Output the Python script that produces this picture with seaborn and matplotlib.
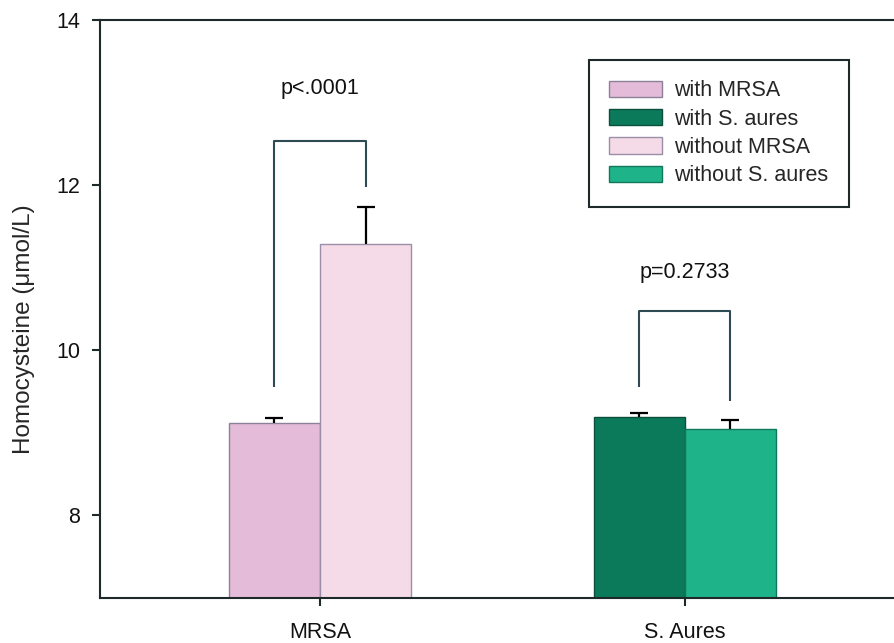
import numpy as np
import pandas as pd
import matplotlib
matplotlib.use("Agg")
import matplotlib.pyplot as plt
import seaborn as sns
from matplotlib.patches import Patch

# --- data ---
groups = ["MRSA", "S. Aures"]
with_means = [9.12, 9.19]
without_means = [11.29, 9.05]
with_se = [0.06, 0.05]
without_se = [0.45, 0.11]
legend_labels = ["with MRSA", "with S. aures", "without MRSA", "without S. aures"]
bar_colors = ["#E4BBD8", "#0A7A5A", "#F5DAE7", "#1EB389"]
bar_edges = ["#8C8298", "#0B4F3C", "#9A8FA8", "#11775A"]

# significance brackets (y values in data units)
bracket_tops = [12.53, 10.48]
bracket_left_bottoms = [9.56, 9.55]
bracket_right_bottoms = [11.98, 9.38]
p_labels = ["p<.0001", "p=0.2733"]
p_label_y = [13.10, 10.87]

df = pd.DataFrame({
    "group": groups * 2,
    "status": ["with"] * 2 + ["without"] * 2,
    "value": with_means + without_means,
})
errs = with_se + without_se

sns.set_theme(style="ticks")
plt.rcParams["font.family"] = ["Liberation Sans", "DejaVu Sans"]

fig = plt.figure(figsize=(8.94, 6.43), dpi=100)
ax = fig.add_axes([0.1119, 0.070, 0.888, 0.899])

sns.barplot(data=df, x="group", y="value", hue="status", width=0.5,
            errorbar=None, legend=False, ax=ax)

# recolour bars: patch order is with-MRSA, with-S.aures, without-MRSA, without-S.aures
bars = list(ax.patches)
for p, fc, ec in zip(bars, bar_colors, bar_edges):
    p.set_facecolor(fc)
    p.set_edgecolor(ec)
    p.set_linewidth(1.0)

# upward-only error bars with a single cap on top
xs = np.array([p.get_x() + p.get_width() / 2 for p in bars])
tops = np.array([p.get_height() for p in bars])
eb = ax.errorbar(xs, tops, yerr=[np.zeros(len(errs)), errs], fmt="none",
                 ecolor="black", elinewidth=1.6, capsize=6.5, capthick=1.6, zorder=3)
eb[1][0].set_visible(False)

# brackets between with / without bars of each group
line_col = "#2E4A52"
for i in range(len(groups)):
    x0, x1 = xs[i], xs[i + 2]
    ax.plot([x0, x0, x1, x1],
            [bracket_left_bottoms[i], bracket_tops[i], bracket_tops[i], bracket_right_bottoms[i]],
            color=line_col, lw=1.5, solid_capstyle="butt")
    ax.text((x0 + x1) / 2, p_label_y[i], p_labels[i], ha="center", va="baseline",
            fontsize=15.5, color="#111111")

ax.set_xlim(-0.603, 1.573)
ax.set_ylim(7, 14)
ax.set_yticks([8, 10, 12, 14])
ax.set_xlabel("")
ax.set_ylabel("Homocysteine (\u03bcmol/L)", fontsize=17.5)
ax.yaxis.set_label_coords(-0.082, 0.465)

for side in ["left", "bottom", "top"]:
    ax.spines[side].set_linewidth(1.5)
    ax.spines[side].set_color("#1E2A2A")
ax.spines["right"].set_visible(False)
ax.tick_params(axis="both", direction="out", length=6, width=1.5,
               color="#1E2A2A", labelsize=15.5, labelcolor="#111111")
ax.tick_params(axis="y", pad=8.5)
ax.tick_params(axis="x", pad=11)

handles = [Patch(facecolor=fc, edgecolor=ec, linewidth=1.0)
           for fc, ec in zip(bar_colors, bar_edges)]
leg = ax.legend(handles, legend_labels, loc="upper left",
                bbox_to_anchor=(0.6159, 0.9308), fontsize=15.5,
                frameon=True, fancybox=False, borderpad=0.95,
                handlelength=2.42, handleheight=0.8, handletextpad=0.6,
                labelspacing=0.34, borderaxespad=0)
leg.get_frame().set_edgecolor("#1E2A2A")
leg.get_frame().set_linewidth(1.5)
leg.get_frame().set_alpha(1)

fig.savefig("out.png", dpi=100)
